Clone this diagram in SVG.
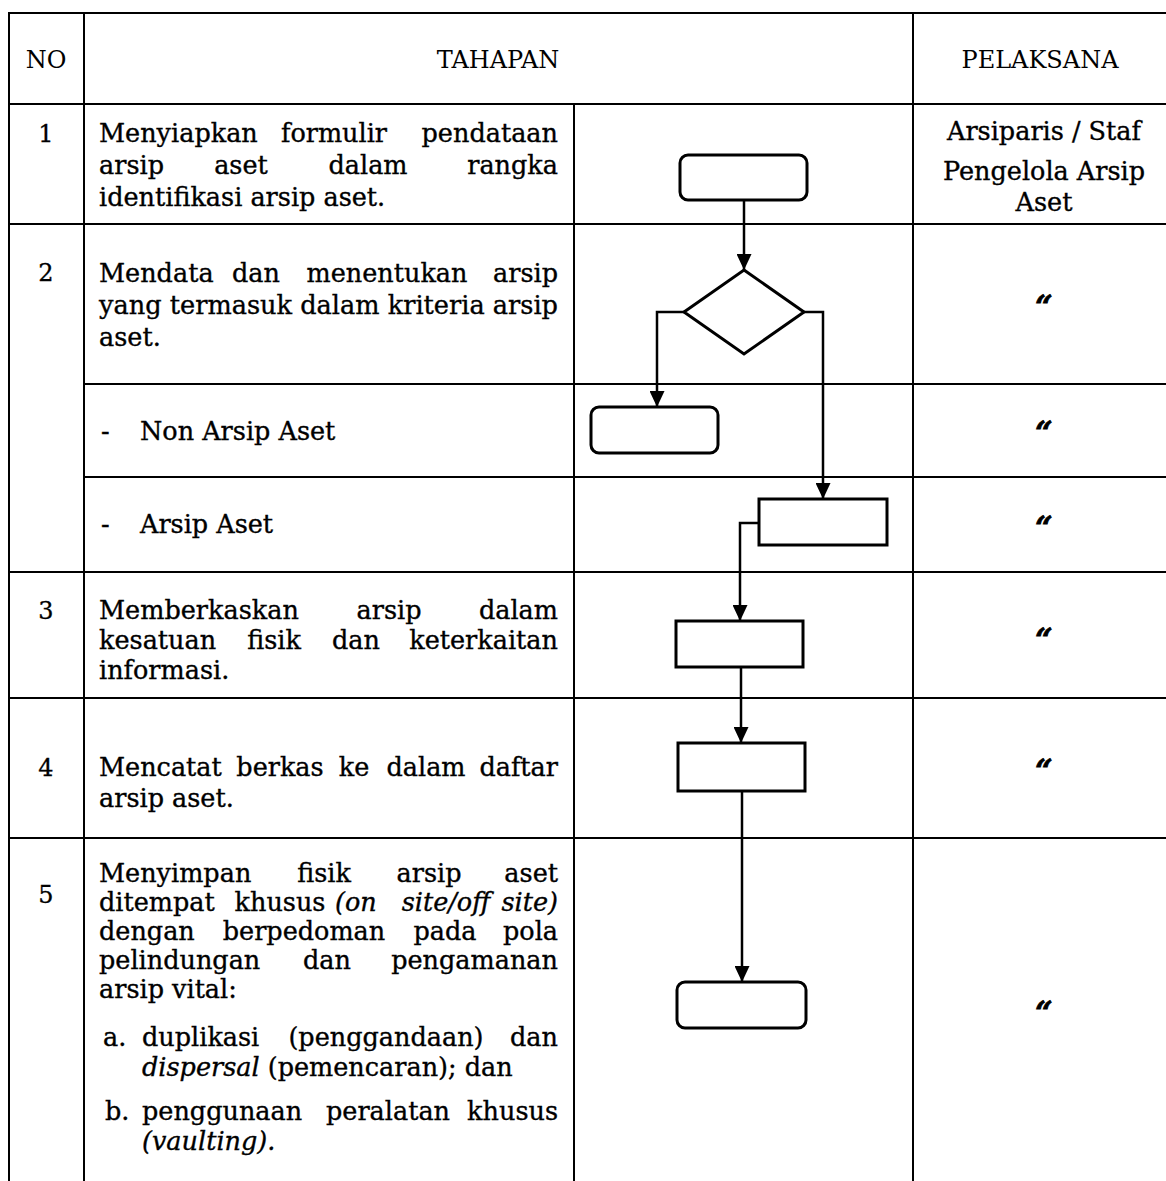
<svg xmlns="http://www.w3.org/2000/svg" width="1166" height="1181" viewBox="0 0 1166 1181">
<style>
  .grid { stroke: #000; stroke-width: 2; fill: none; }
  .shape { stroke: #000; stroke-width: 3; fill: #fff; }
  .conn { stroke: #000; stroke-width: 2.5; fill: none; }
  text { font-family: "DejaVu Serif", "Liberation Serif", serif; fill: #000; }
  .hd { font-size: 24px; text-anchor: middle; }
  .num { font-size: 24px; text-anchor: middle; stroke: #000; stroke-width: 0.3; }
  .t { font-size: 25.5px; stroke: #000; stroke-width: 0.35; }
  .m { text-anchor: middle; }
  .e { text-anchor: end; }
  .i { font-style: italic; }
  .pl { font-size: 25.5px; text-anchor: middle; stroke: #000; stroke-width: 0.35; }
  .q { font-size: 30px; font-weight: bold; font-style: italic; text-anchor: middle; stroke: #000; stroke-width: 0.9; }
</style>
<defs>
  <marker id="arr" viewBox="0 0 16 15" markerWidth="16" markerHeight="15" refX="16" refY="7.5" orient="auto" markerUnits="userSpaceOnUse">
    <path d="M0,0 L16,7.5 L0,15 Z" fill="#000"/>
  </marker>
</defs>
<rect x="0" y="0" width="1166" height="1181" fill="#fff"/>

<g id="table" class="grid">
  <line x1="8" y1="13" x2="1166" y2="13"/>
  <line x1="9" y1="12" x2="9" y2="1181"/>
  <line x1="84" y1="12" x2="84" y2="1181"/>
  <line x1="574" y1="104" x2="574" y2="1181"/>
  <line x1="913" y1="12" x2="913" y2="1181"/>
  <line x1="8" y1="104" x2="1166" y2="104"/>
  <line x1="8" y1="224" x2="1166" y2="224"/>
  <line x1="84" y1="384" x2="1166" y2="384"/>
  <line x1="84" y1="477" x2="1166" y2="477"/>
  <line x1="8" y1="572" x2="1166" y2="572"/>
  <line x1="8" y1="698" x2="1166" y2="698"/>
  <line x1="8" y1="838" x2="1166" y2="838"/>
</g>

<g id="header">
  <text class="hd" x="46" y="68">NO</text>
  <text class="hd" x="498" y="68">TAHAPAN</text>
  <text class="hd" x="1040" y="68">PELAKSANA</text>
</g>

<g id="row1">
  <text class="num" x="46" y="142">1</text>
  <text class="t" x="99" y="142">Menyiapkan</text>
  <text class="t m" x="334" y="142">formulir</text>
  <text class="t e" x="558" y="142">pendataan</text>
  <text class="t" x="99" y="174">arsip</text>
  <text class="t m" x="241" y="174">aset</text>
  <text class="t m" x="368" y="174">dalam</text>
  <text class="t e" x="558" y="174">rangka</text>
  <text class="t" x="99" y="206">identifikasi arsip aset.</text>
  <text class="pl" x="1044" y="140">Arsiparis / Staf</text>
  <text class="pl" x="1044" y="180">Pengelola Arsip</text>
  <text class="pl" x="1044" y="211">Aset</text>
</g>

<g id="row2">
  <text class="num" x="46" y="281">2</text>
  <text class="t" x="99" y="282">Mendata</text>
  <text class="t m" x="256" y="282">dan</text>
  <text class="t m" x="387" y="282">menentukan</text>
  <text class="t e" x="558" y="282">arsip</text>
  <text class="t" x="99" y="314" textLength="459" lengthAdjust="spacingAndGlyphs">yang termasuk dalam kriteria arsip</text>
  <text class="t" x="99" y="346">aset.</text>
  <text class="q" x="1044" y="317">“</text>
</g>

<g id="row2a">
  <text class="t" x="101" y="440">-</text>
  <text class="t" x="140" y="440">Non Arsip Aset</text>
  <text class="q" x="1044" y="443">“</text>
</g>

<g id="row2b">
  <text class="t" x="101" y="533">-</text>
  <text class="t" x="140" y="533">Arsip Aset</text>
  <text class="q" x="1044" y="538">“</text>
</g>

<g id="row3">
  <text class="num" x="46" y="619">3</text>
  <text class="t" x="99" y="619">Memberkaskan</text>
  <text class="t m" x="389" y="619">arsip</text>
  <text class="t e" x="558" y="619">dalam</text>
  <text class="t" x="99" y="649">kesatuan</text>
  <text class="t m" x="274" y="649">fisik</text>
  <text class="t m" x="356" y="649">dan</text>
  <text class="t e" x="558" y="649">keterkaitan</text>
  <text class="t" x="99" y="679">informasi.</text>
  <text class="q" x="1044" y="650">“</text>
</g>

<g id="row4">
  <text class="num" x="46" y="776">4</text>
  <text class="t" x="99" y="776">Mencatat</text>
  <text class="t m" x="280" y="776">berkas</text>
  <text class="t m" x="354" y="776">ke</text>
  <text class="t m" x="426" y="776">dalam</text>
  <text class="t e" x="558" y="776">daftar</text>
  <text class="t" x="99" y="807">arsip aset.</text>
  <text class="q" x="1044" y="781">“</text>
</g>

<g id="row5">
  <text class="num" x="46" y="903">5</text>
  <text class="t" x="99" y="882">Menyimpan</text>
  <text class="t m" x="324" y="882">fisik</text>
  <text class="t m" x="429" y="882">arsip</text>
  <text class="t e" x="558" y="882">aset</text>
  <text class="t" x="99" y="911">ditempat</text>
  <text class="t m" x="280" y="911">khusus</text>
  <text class="t i" x="335" y="911">(on</text>
  <text class="t i m" x="446" y="911">site/off</text>
  <text class="t i e" x="558" y="911">site)</text>
  <text class="t" x="99" y="940">dengan</text>
  <text class="t m" x="304" y="940">berpedoman</text>
  <text class="t m" x="445" y="940">pada</text>
  <text class="t e" x="558" y="940">pola</text>
  <text class="t" x="99" y="969">pelindungan</text>
  <text class="t m" x="327" y="969">dan</text>
  <text class="t e" x="558" y="969">pengamanan</text>
  <text class="t" x="99" y="998">arsip vital:</text>
  <text class="t" x="103" y="1046">a.</text>
  <text class="t" x="142" y="1046">duplikasi</text>
  <text class="t m" x="386" y="1046">(penggandaan)</text>
  <text class="t e" x="558" y="1046">dan</text>
  <text class="t" x="142" y="1076"><tspan class="i">dispersal</tspan> (pemencaran); dan</text>
  <text class="t" x="105" y="1120">b.</text>
  <text class="t" x="142" y="1120">penggunaan</text>
  <text class="t m" x="388" y="1120">peralatan</text>
  <text class="t e" x="558" y="1120">khusus</text>
  <text class="t i" x="142" y="1150">(vaulting).</text>
  <text class="q" x="1044" y="1023">“</text>
</g>

<g id="connectors" class="conn">
  <line x1="744" y1="200" x2="744" y2="270" marker-end="url(#arr)"/>
  <polyline points="684,312 657,312 657,407" marker-end="url(#arr)"/>
  <polyline points="804,312 823,312 823,499" marker-end="url(#arr)"/>
  <polyline points="759,523 740,523 740,621" marker-end="url(#arr)"/>
  <line x1="741" y1="667" x2="741" y2="743" marker-end="url(#arr)"/>
  <line x1="742" y1="791" x2="742" y2="982" marker-end="url(#arr)"/>
</g>

<g id="start"><rect class="shape" x="680" y="155" width="127" height="45" rx="8"/></g>
<g id="decision"><polygon class="shape" points="744,270 804,312 744,354 684,312"/></g>
<g id="nonarsip"><rect class="shape" x="591" y="407" width="127" height="46" rx="8"/></g>
<g id="arsipaset"><rect class="shape" x="759" y="499" width="128" height="46"/></g>
<g id="pemberkasan"><rect class="shape" x="676" y="621" width="127" height="46"/></g>
<g id="pencatatan"><rect class="shape" x="678" y="743" width="127" height="48"/></g>
<g id="end"><rect class="shape" x="677" y="982" width="129" height="46" rx="8"/></g>
</svg>
